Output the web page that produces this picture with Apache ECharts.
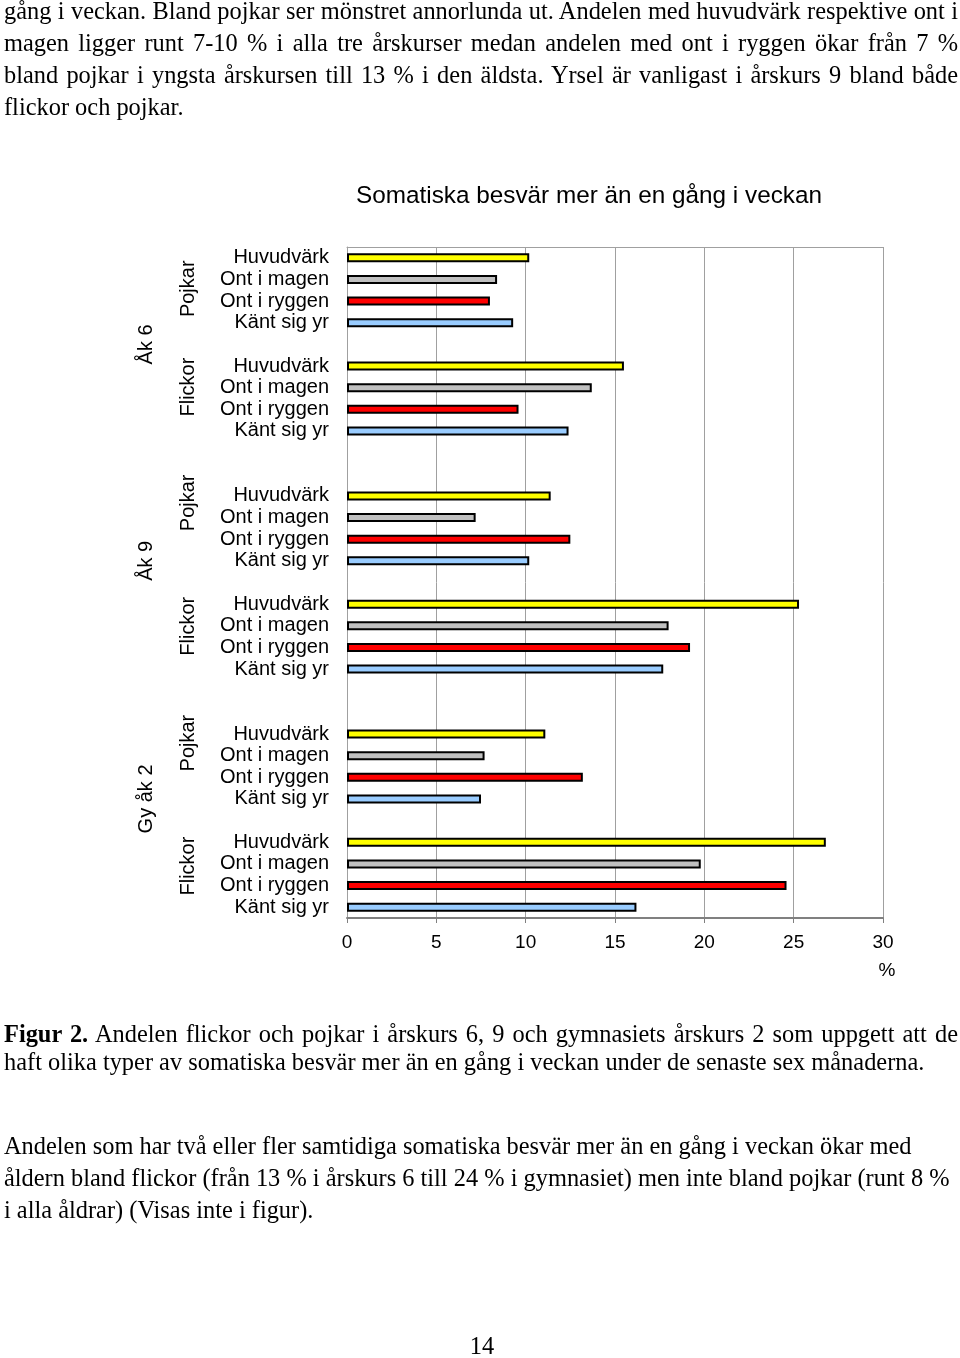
<!DOCTYPE html>
<html>
<head>
<meta charset="utf-8">
<script src="https://cdn.jsdelivr.net/npm/echarts@6/dist/echarts.min.js"></script>
<style>
  html, body { margin: 0; padding: 0; background: #fff; }
  #page { position: relative; width: 960px; height: 1358px; overflow: hidden; background: #fff; }
  #chart { position: absolute; left: 0; top: 0; width: 960px; height: 1358px; }
  .ln { position: absolute; left: 4px; width: 954px; height: 32px; line-height: 32px;
        font-family: 'Liberation Serif', 'Times New Roman', serif; font-size: 24.4px; color: #000;
        white-space: nowrap; z-index: 2; }
  .j { text-align: justify; text-align-last: justify; }
</style>
</head>
<body>
<div id="page">
  <div id="chart"></div>
  <div class="ln j" style="top:-5px">gång i veckan. Bland pojkar ser mönstret annorlunda ut. Andelen med huvudvärk respektive ont i</div>
  <div class="ln j" style="top:27px">magen ligger runt 7-10 % i alla tre årskurser medan andelen med ont i ryggen ökar från 7 %</div>
  <div class="ln j" style="top:59px">bland pojkar i yngsta årskursen till 13 % i den äldsta. Yrsel är vanligast i årskurs 9 bland både</div>
  <div class="ln" style="top:91px">flickor och pojkar.</div>
  <div class="ln j" style="top:1018px"><b>Figur 2.</b> Andelen flickor och pojkar i årskurs 6, 9 och gymnasiets årskurs 2 som uppgett att de</div>
  <div class="ln" style="top:1046px">haft olika typer av somatiska besvär mer än en gång i veckan under de senaste sex månaderna.</div>
  <div class="ln" style="top:1130px">Andelen som har två eller fler samtidiga somatiska besvär mer än en gång i veckan ökar med</div>
  <div class="ln" style="top:1162px">åldern bland flickor (från 13 % i årskurs 6 till 24 % i gymnasiet) men inte bland pojkar (runt 8 %</div>
  <div class="ln" style="top:1194px">i alla åldrar) (Visas inte i figur).</div>
  <div class="ln" style="top:1330px; text-align:center; left:432px; width:100px;">14</div>
</div>
<script>
// ---- data ----
const symptoms = ['Huvudvärk', 'Ont i magen', 'Ont i ryggen', 'Känt sig yr'];
const symptomColors = ['#FFFF00', '#C0C0C0', '#FF0000', '#99CCFF'];
const gradeLabels = ['Åk 6', 'Åk 9', 'Gy åk 2'];
const sexLabels = ['Pojkar', 'Flickor'];
const ak6Pojkar = [10.2, 8.4, 8.0, 9.3];
const ak6Flickor = [15.5, 13.7, 9.6, 12.4];
const ak9Pojkar = [11.4, 7.2, 12.5, 10.2];
const ak9Flickor = [25.3, 18.0, 19.2, 17.7];
const gyPojkar = [11.1, 7.7, 13.2, 7.5];
const gyFlickor = [26.8, 19.8, 24.6, 16.2];
const xTickMin = 0, xTickMax = 30, xTickStep = 5;
const chartTitle = 'Somatiska besvär mer än en gång i veckan';
const unitLabel = '%';

// ---- build category axis with blank spacer slots ----
const blocks = [ak6Pojkar, ak6Flickor, ak9Pojkar, ak9Flickor, gyPojkar, gyFlickor];
const gapsAfter = [1, 2, 1, 2, 1, 0];
const yCats = [], barData = [];
blocks.forEach((vals, b) => {
  vals.forEach((v, i) => {
    yCats.push(symptoms[i]);
    barData.push({ value: v, itemStyle: { color: symptomColors[i] } });
  });
  for (let g = 0; g < gapsAfter[b]; g++) { yCats.push(''); barData.push('-'); }
});

const FONT = "'Liberation Sans', Arial, sans-serif";
const chart = echarts.init(document.getElementById('chart'), null, { renderer: 'canvas' });
const gridLeft = 347, gridTop = 247, gridW = 536, gridH = 671;

chart.setOption({
  animation: false,
  backgroundColor: '#fff',
  title: {
    text: chartTitle, left: 584, top: 179, textAlign: 'center',
    textStyle: { fontFamily: FONT, fontSize: 24.3, fontWeight: 'normal', color: '#000' }
  },
  grid: { left: gridLeft, top: gridTop, width: gridW, height: gridH, containLabel: false, outerBoundsMode: 'none' },
  xAxis: [{
    type: 'value', position: 'bottom', min: xTickMin, max: xTickMax, interval: xTickStep,
    axisLine: { show: true, lineStyle: { color: '#808080', width: 2 } },
    axisTick: { show: true, length: 5, lineStyle: { color: '#808080', width: 1 } },
    axisLabel: { fontFamily: FONT, fontSize: 19, color: '#000', margin: 15 },
    splitLine: { show: true, lineStyle: { color: '#A0A0A0', width: 1 } }
  }, {
    type: 'value', position: 'top', min: xTickMin, max: xTickMax, interval: xTickStep,
    axisLine: { show: true, onZero: false, lineStyle: { color: '#A0A0A0', width: 1 } },
    axisTick: { show: false }, axisLabel: { show: false }, splitLine: { show: false }
  }],
  yAxis: {
    type: 'category', data: yCats, inverse: true,
    axisLine: { show: true, lineStyle: { color: '#A0A0A0', width: 1 } },
    axisTick: { show: false },
    axisLabel: { interval: 0, fontFamily: FONT, fontSize: 20, color: '#000', margin: 18, padding: [5, 0, 0, 0] },
    splitLine: { show: false }
  },
  series: [{
    type: 'bar', xAxisIndex: 0, data: barData, barWidth: 9,
    itemStyle: { borderColor: '#000', borderWidth: 2 }
  }]
});

// ---- group labels (rotated), positioned from category slots ----
const p0 = chart.convertToPixel({ yAxisIndex: 0 }, 0);
const p1 = chart.convertToPixel({ yAxisIndex: 0 }, 1);
const step = p1 - p0;
const yAt = idx => p0 + idx * step;
// anchor slot positions for labels (fractional category index)
const sexAnchors = [[1.43, 5.97], [11.32, 17.02], [22.42, 28.1]];
const gradeAnchors = [4.0, 14.0, 25.0];
const graphics = [];
gradeLabels.forEach((g, gi) => {
  graphics.push({
    type: 'text', x: 146, y: yAt(gradeAnchors[gi]), rotation: Math.PI / 2,
    style: { text: g, fontFamily: FONT, fontSize: 20, fill: '#000', align: 'center', verticalAlign: 'middle' }
  });
  sexLabels.forEach((s, si) => {
    graphics.push({
      type: 'text', x: 188, y: yAt(sexAnchors[gi][si]), rotation: Math.PI / 2,
      style: { text: s, fontFamily: FONT, fontSize: 20, fill: '#000', align: 'center', verticalAlign: 'middle' }
    });
  });
});
const xEnd = chart.convertToPixel({ xAxisIndex: 0 }, xTickMax);
graphics.push({
  type: 'text', x: xEnd + 4, y: 971,
  style: { text: unitLabel, fontFamily: FONT, fontSize: 19, fill: '#000', align: 'center', verticalAlign: 'middle' }
});
chart.setOption({ graphic: graphics });
</script>
</body>
</html>
